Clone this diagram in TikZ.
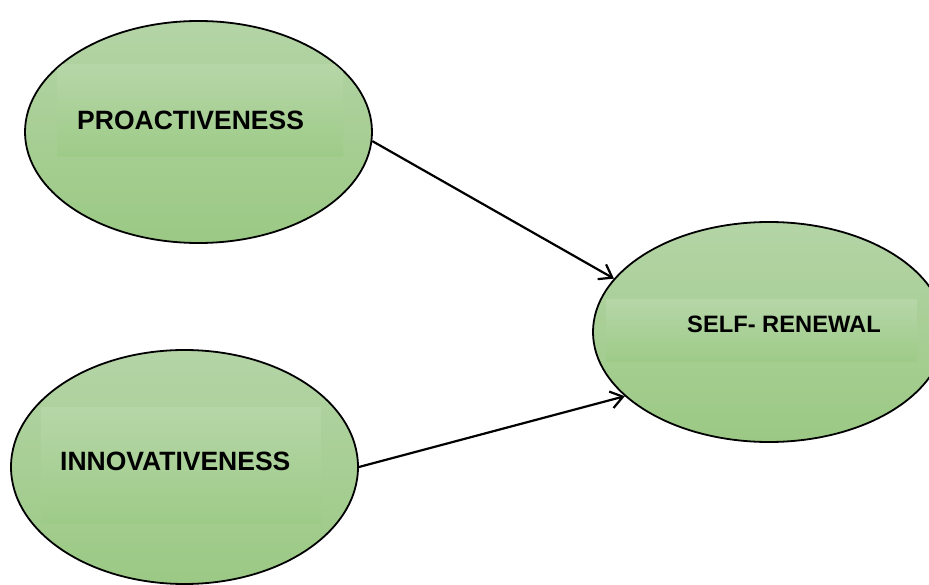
\documentclass[tikz,border=0pt]{standalone}
\usepackage{fontspec}
\setmainfont{Liberation Sans}
\usetikzlibrary{shapes.geometric,arrows.meta}
\definecolor{gtop}{HTML}{B4D4A6}
\definecolor{gbot}{HTML}{9BC984}
\definecolor{btop}{HTML}{B6D6A8}
\definecolor{bbot}{HTML}{9ECB88}
\tikzset{
  oval/.style={ellipse, draw=black, line width=1.8pt, top color=gtop, bottom color=gbot, inner sep=0pt},
  band/.style={top color=btop, bottom color=bbot, draw=none},
  lbl/.style={anchor=base west, inner sep=0pt, font=\bfseries\fontsize{26.5}{30}\selectfont},
  lbls/.style={anchor=base west, inner sep=0pt, font=\bfseries\fontsize{23.7}{28}\selectfont},
  conn/.style={line width=2.2pt, -{Straight Barb[length=12pt,width=17pt,line width=2.2pt]}}
}
\begin{document}
\begin{tikzpicture}[x=1pt,y=-1pt]
\useasboundingbox (0,0) rectangle (929,585);
\node[oval, minimum width=347pt, minimum height=222pt] (p) at (198.5,132) {};
\node[oval, minimum width=347pt, minimum height=234pt] (i) at (184.5,467) {};
\node[oval, minimum width=352pt, minimum height=220pt] (s) at (769,332) {};
\begin{scope}
  \clip (198.5,132) ellipse [x radius=172.5pt, y radius=110pt];
  \fill[band] (57,65) rectangle (343,157);
\end{scope}
\begin{scope}
  \clip (184.5,467) ellipse [x radius=172.5pt, y radius=116pt];
  \fill[band] (41,407) rectangle (321,523);
\end{scope}
\begin{scope}
  \clip (769,332) ellipse [x radius=175pt, y radius=109pt];
  \fill[band] (606,300) rectangle (917,361);
\end{scope}
\node[lbl] (pt) at (77,130) {PROACTIVENESS};
\node[lbl] (it) at (60,470) {INNOVATIVENESS};
\node[lbls] (st) at (687,333) {SELF- RENEWAL};
\draw[conn] (p.-3.6) -- (s.161);
\draw[conn] (i.-0.5) -- (s.204.7);
\end{tikzpicture}
\end{document}
